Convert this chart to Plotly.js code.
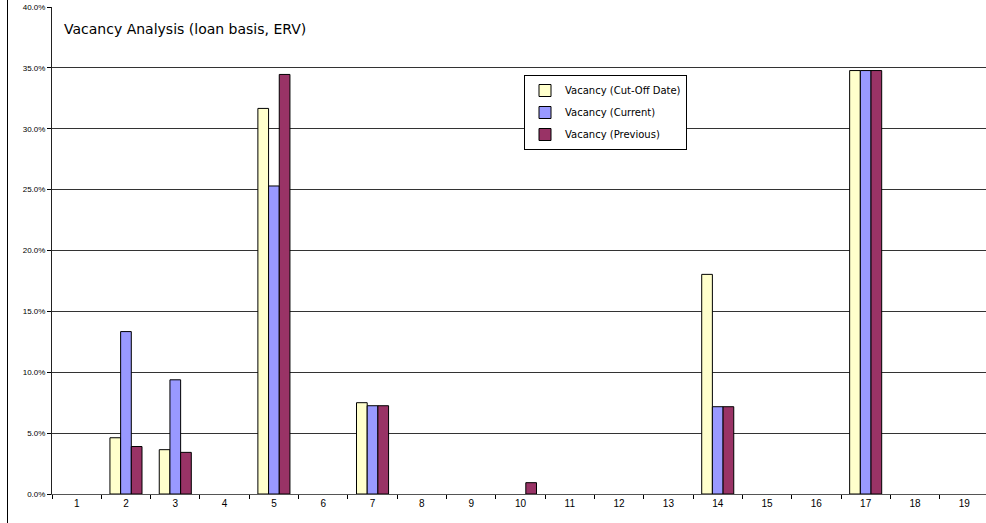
<!DOCTYPE html>
<html>
<head>
<meta charset="utf-8">
<script src="https://cdn.plot.ly/plotly-3.0.1.min.js"></script>
<style>
  html, body { margin: 0; padding: 0; background: #ffffff; }
  #chart { width: 986px; height: 523px; }
</style>
</head>
<body>
<div id="chart"></div>
<script>
// Loan numbers along the x axis
const loans = ['1','2','3','4','5','6','7','8','9','10','11','12','13','14','15','16','17','18','19'];

// Vacancy rates (fraction of ERV) per loan; null = no vacancy reported
const vacancyCutOff   = [null, 0.0462, 0.0364, null, 0.3167, null, 0.0750, null, null, null,   null, null, null, 0.1804, null, null, 0.3478, null, null];
const vacancyCurrent  = [null, 0.1334, 0.0938, null, 0.2530, null, 0.0725, null, null, null,   null, null, null, 0.0717, null, null, 0.3478, null, null];
const vacancyPrevious = [null, 0.0390, 0.0342, null, 0.3446, null, 0.0725, null, null, 0.0093, null, null, null, 0.0717, null, null, 0.3478, null, null];

const seriesNames = ['Vacancy (Cut-Off Date)', 'Vacancy (Current)', 'Vacancy (Previous)'];
const seriesColors = ['#FFFFCC', '#9999FF', '#993366'];
const seriesValues = [vacancyCutOff, vacancyCurrent, vacancyPrevious];

const traces = seriesValues.map((vals, i) => ({
  type: 'bar',
  name: seriesNames[i],
  x: loans,
  y: vals,
  legendgroup: 'g' + i,
  marker: { color: seriesColors[i], line: { color: '#000000', width: 1 } },
  hoverinfo: 'x+y+name'
}));

const layout = {
  width: 986,
  height: 523,
  margin: { l: 52, r: 0, t: 7, b: 29, pad: 0 },
  paper_bgcolor: '#ffffff',
  plot_bgcolor: '#ffffff',
  barmode: 'group',
  bargap: 0.35,
  bargroupgap: 0,
  font: { family: 'Liberation Sans, Arial, sans-serif', color: '#000000' },
  title: {
    text: 'Vacancy Analysis (loan basis, ERV)',
    font: { family: 'DejaVu Sans, Verdana, sans-serif', size: 14, color: '#000000' },
    x: 64 / 986, xanchor: 'left', xref: 'container',
    y: 1 - 29 / 523, yanchor: 'middle', yref: 'container'
  },
  xaxis: {
    type: 'category',
    range: [-0.5, 18.44],
    tickson: 'boundaries',
    ticks: 'outside',
    ticklen: 4,
    tickcolor: '#000000',
    showline: true,
    linecolor: '#555555',
    linewidth: 1,
    showgrid: false,
    tickfont: { size: 10, color: '#000000' },
    fixedrange: true
  },
  yaxis: {
    range: [0, 0.40],
    dtick: 0.05,
    tickformat: '.1%',
    ticks: 'outside',
    ticklen: 4,
    tickcolor: '#000000',
    showline: true,
    linecolor: '#222222',
    linewidth: 1,
    showgrid: true,
    gridcolor: '#333333',
    gridwidth: 1,
    zeroline: false,
    tickfont: { size: 8, color: '#000000' },
    fixedrange: true
  },
  legend: {
    x: (524 - 52) / (986 - 52),
    y: 1 - (75 - 7) / (494 - 7),
    xanchor: 'left',
    yanchor: 'top',
    bgcolor: '#ffffff',
    bordercolor: '#000000',
    borderwidth: 1,
    tracegroupgap: 3,
    traceorder: 'grouped',
    font: { family: 'DejaVu Sans, Verdana, sans-serif', size: 10, color: '#000000' }
  },
  shapes: [
    {
      type: 'line', xref: 'paper', yref: 'paper',
      x0: (7.5 - 52) / (986 - 52), x1: (7.5 - 52) / (986 - 52),
      y0: -29 / 487, y1: 1 + 7 / 487,
      line: { color: '#000000', width: 1 }
    }
  ],
  showlegend: true
};

Plotly.newPlot('chart', traces, layout, { displayModeBar: false, staticPlot: true });
</script>
</body>
</html>
